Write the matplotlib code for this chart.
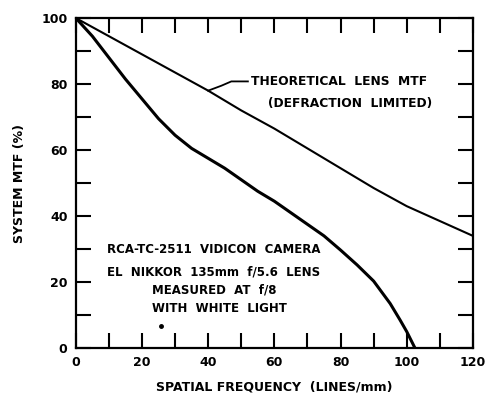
import matplotlib.pyplot as plt

# Odečtené hodnoty z grafu
freq_teorie = [0, 10, 20, 30, 40, 50, 60, 70, 80, 90, 100, 110, 120]
mtf_teorie = [100, 94.5, 89, 83.5, 78, 72, 66.5, 60.5, 54.5, 48.5, 43, 38.5, 34]

freq_mereni = [0, 5, 10, 15, 20, 25, 30, 35, 40, 45, 50, 55, 60, 65, 70, 75, 80, 85,
               90, 95, 98, 100, 102.5]
mtf_mereni = [100, 94.5, 88, 81.5, 75.5, 69.5, 64.5, 60.5, 57.5, 54.5, 51, 47.5, 44.5, 41,
              37.5, 34, 29.7, 25.2, 20.3, 13.5, 8.5, 5, 0]

x_ticks = [0, 20, 40, 60, 80, 100, 120]
y_ticks = [0, 20, 40, 60, 80, 100]

plt.rcParams['font.family'] = ['DejaVu Sans']
plt.rcParams['font.weight'] = 'bold'

fig = plt.figure(figsize=(4.86, 4.01), dpi=100)
ax = fig.add_axes([0.156, 0.132, 0.817, 0.823])

ax.plot(freq_teorie, mtf_teorie, color='black', lw=1.5)
ax.plot(freq_mereni, mtf_mereni, color='black', lw=2.2, solid_joinstyle='round')
ax.plot([25.6], [6.6], 'o', color='black', ms=2.5)

ax.set_xlim(0, 120)
ax.set_ylim(0, 100)
ax.set_xticks(x_ticks)
ax.set_yticks(y_ticks)
ax.set_xticks(range(0, 121, 10), minor=True)
ax.set_yticks(range(0, 101, 10), minor=True)
ax.tick_params(which='both', direction='in', length=10.5, width=1.5,
               top=True, right=True, labelsize=9)
ax.tick_params(axis='x', pad=6)
ax.tick_params(axis='y', pad=6)
for s in ax.spines.values():
    s.set_linewidth(1.6)

ax.set_xlabel("SPATIAL FREQUENCY  (LINES/mm)", fontsize=9, fontweight='bold', labelpad=8)
ax.set_ylabel("SYSTEM MTF (%)", fontsize=9, fontweight='bold', labelpad=11)

# Popisek teoretické křivky s vodicí čarou
ax.plot([40, 44, 47, 52], [78, 79.5, 80.8, 80.8], color='black', lw=1.3)
ax.text(53, 80.8, "THEORETICAL  LENS  MTF", fontsize=8.8, fontweight='bold', va='center')
ax.text(58, 74.2, "(DEFRACTION  LIMITED)", fontsize=8.8, fontweight='bold', va='center')

ax.text(9.5, 29.8, "RCA-TC-2511  VIDICON  CAMERA", fontsize=8.5, fontweight='bold', va='center')
ax.text(9.5, 23.2, "EL  NIKKOR  135mm  f/5.6  LENS", fontsize=8.5, fontweight='bold', va='center')
ax.text(23, 17.7, "MEASURED  AT  f/8", fontsize=8.5, fontweight='bold', va='center')
ax.text(23, 12.1, "WITH  WHITE  LIGHT", fontsize=8.5, fontweight='bold', va='center')

fig.savefig("out.png", dpi=100)
